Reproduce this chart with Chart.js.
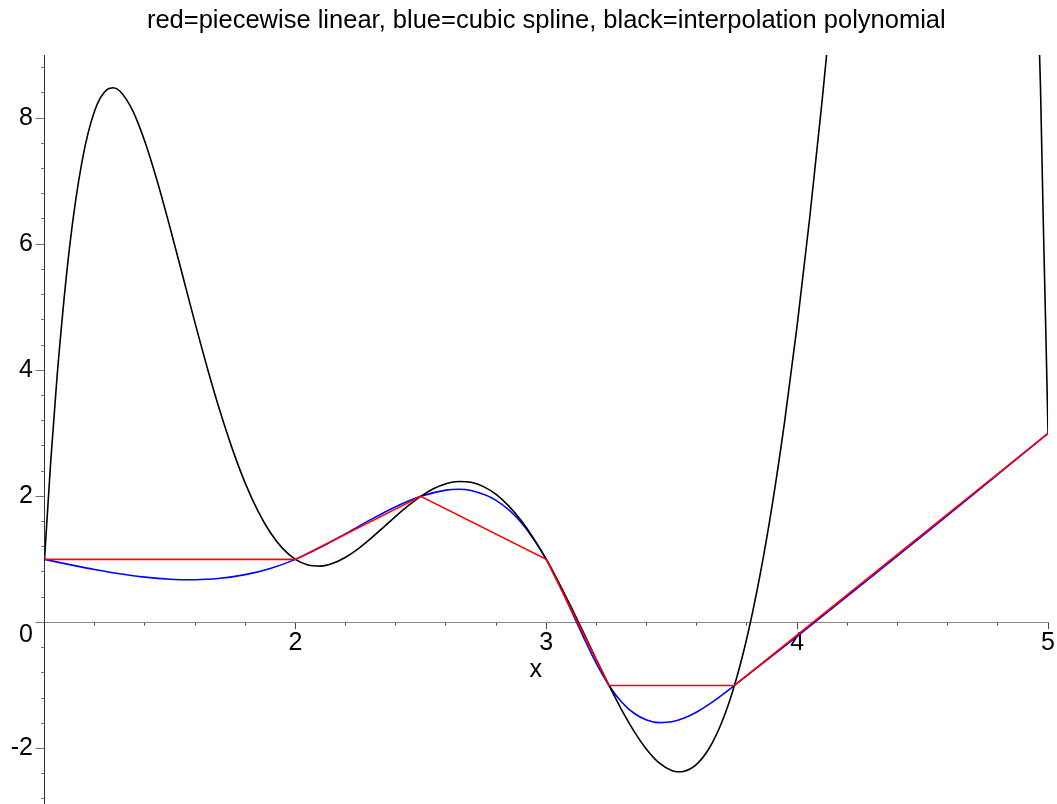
<!DOCTYPE html>
<html>
<head>
<meta charset="utf-8">
<script src="https://cdn.jsdelivr.net/npm/chart.js@4/dist/chart.umd.min.js"></script>
<style>
	body { margin: 0; background: #fff; }
	canvas { display: block; }
</style>
</head>
<body>
<canvas id="myChart" width="1057" height="804"></canvas>
<script>
// data points (piecewise linear, red)
const pieceX = [1, 2, 2.5, 3, 3.25, 3.75, 5];
const pieceY = [1, 1, 2, 1, -1, -1, 3];

// cubic spline (blue)
const splineX = [1, 1.1, 1.2, 1.3, 1.4, 1.5, 1.6, 1.7, 1.8, 1.9, 2,
	2.1, 2.2, 2.3, 2.4, 2.5,
	2.6, 2.65, 2.7, 2.8, 2.9, 3,
	3.05, 3.1, 3.15, 3.2, 3.25,
	3.3, 3.35, 3.4, 3.45, 3.5, 3.55, 3.6, 3.65, 3.7, 3.75,
	4, 4.25, 4.5, 4.75, 5];
const splineY = [1, 0.917, 0.839, 0.771, 0.718, 0.685, 0.677, 0.700, 0.758, 0.856, 1,
	1.190, 1.407, 1.630, 1.835, 2,
	2.099, 2.112, 2.092, 1.936, 1.586, 1,
	0.611, 0.184, -0.248, -0.654, -1,
	-1.262, -1.441, -1.547, -1.589, -1.576, -1.516, -1.420, -1.296, -1.153, -1,
	-0.220, 0.574, 1.377, 2.187, 3];

// interpolation polynomial (black)
const polyX = [1, 1.025, 1.05, 1.1, 1.15, 1.2, 1.25, 1.275,
	1.3, 1.35, 1.4, 1.45, 1.5, 1.55, 1.6, 1.65, 1.7, 1.75, 1.8, 1.85, 1.9, 1.95,
	2, 2.05, 2.1, 2.15, 2.2, 2.25, 2.3, 2.35, 2.4, 2.45,
	2.5, 2.55, 2.6, 2.65, 2.7, 2.75, 2.8, 2.85, 2.9, 2.95,
	3, 3.05, 3.1, 3.15, 3.2,
	3.25, 3.3, 3.35, 3.4, 3.45, 3.5, 3.525, 3.55, 3.6, 3.65, 3.7,
	3.75, 3.8, 3.85, 3.9, 3.95, 4, 4.05, 4.1, 4.15,
	4.2, 4.4, 4.6, 4.8, 4.9, 4.95, 4.97, 4.98, 4.99, 5];
const polyY = [1, 2.562, 3.896, 5.956, 7.322, 8.117, 8.454, 8.481,
	8.429, 8.129, 7.628, 6.990, 6.268, 5.510, 4.751, 4.021, 3.344, 2.737, 2.210, 1.773, 1.426, 1.170,
	1, 0.911, 0.893, 0.938, 1.034, 1.168, 1.329, 1.505, 1.683, 1.851,
	2, 2.119, 2.200, 2.236, 2.222, 2.154, 2.030, 1.849, 1.615, 1.330,
	1, 0.633, 0.238, -0.175, -0.592,
	-1, -1.384, -1.728, -2.014, -2.227, -2.348, -2.369, -2.360, -2.247, -1.992, -1.580,
	-1, -0.240, 0.709, 1.850, 3.185, 4.710, 6.419, 8.297, 10.324,
	12.474, 21.487, 28.031, 25.409, 17.523, 11.215, 8.469, 6.532, 4.808, 3];

// axes
const xTicks = [2, 3, 4, 5];
const xMinorTicks = [1.2, 1.4, 1.6, 1.8, 2.2, 2.4, 2.6, 2.8, 3.2, 3.4, 3.6, 3.8, 4.2, 4.4, 4.6, 4.8];
const yTicks = [-2, 0, 2, 4, 6, 8];
const yMinorTicks = [-2.8, -2.4, -1.6, -1.2, -0.8, -0.4, 0.4, 0.8, 1.2, 1.6, 2.4, 2.8, 3.2, 3.6,
	4.4, 4.8, 5.2, 5.6, 6.4, 6.8, 7.2, 7.6, 8.4, 8.8];
const xMin = 1, xMax = 5, yMin = -2.88, yMax = 9;

const titleText = 'red=piecewise linear, blue=cubic spline, black=interpolation polynomial';
const fontFamily = "'Liberation Sans', Arial, sans-serif";

function pts(xs, ys) {
	return xs.map((x, i) => ({ x: x, y: ys[i] }));
}

const ctx = document.getElementById('myChart').getContext('2d');

const myChart = new Chart(ctx, {
	type: 'line',
	data: {
		datasets: [{
			label: 'piecewise linear',
			data: pts(pieceX, pieceY),
			borderColor: '#ff0000',
			borderWidth: 1.6,
			pointRadius: 0,
			tension: 0,
			order: 0
		}, {
			label: 'interpolation polynomial',
			data: pts(polyX, polyY),
			borderColor: '#000000',
			borderWidth: 1.6,
			pointRadius: 0,
			cubicInterpolationMode: 'monotone',
			order: 1
		}, {
			label: 'cubic spline',
			data: pts(splineX, splineY),
			borderColor: '#0000ff',
			borderWidth: 1.6,
			pointRadius: 0,
			cubicInterpolationMode: 'monotone',
			order: 2
		}]
	},
	options: {
		responsive: false,
		animation: false,
		layout: { padding: { left: 0, right: 8, top: 0, bottom: 0 } },
		plugins: {
			legend: { display: false },
			tooltip: { enabled: false },
			title: {
				display: true,
				text: titleText,
				fullSize: false,
				color: '#000',
				font: { family: fontFamily, size: 25.5, weight: 'normal', lineHeight: 1.2 },
				padding: { top: 6, bottom: 18.4 }
			}
		},
		scales: {
			x: {
				type: 'linear',
				axis: 'x',
				position: { y: 0 },
				min: xMin,
				max: xMax,
				afterBuildTicks: (axis) => { axis.ticks = xTicks.map(v => ({ value: v })); },
				ticks: {
					color: '#000',
					padding: 2,
					font: { family: fontFamily, size: 25, lineHeight: 1 },
					callback: (v) => String(v)
				},
				grid: { drawOnChartArea: false, drawTicks: true, tickLength: 6, tickColor: '#444' },
				border: { display: true, color: '#888', width: 1 },
				title: {
					display: true,
					text: 'x   ',
					color: '#000',
					font: { family: fontFamily, size: 25, lineHeight: 1 },
					padding: { top: 0, bottom: 0 }
				}
			},
			xMinor: {
				type: 'linear',
				axis: 'x',
				position: { y: 0 },
				min: xMin,
				max: xMax,
				afterBuildTicks: (axis) => { axis.ticks = xMinorTicks.map(v => ({ value: v })); },
				ticks: { display: false },
				grid: { drawOnChartArea: false, drawTicks: true, tickLength: 3.5, tickColor: '#444' },
				border: { display: false }
			},
			y: {
				type: 'linear',
				axis: 'y',
				position: 'left',
				min: yMin,
				max: yMax,
				afterBuildTicks: (axis) => { axis.ticks = yTicks.map(v => ({ value: v })); },
				afterFit: (axis) => {
					axis.width = 44.5;
					axis.paddingTop = 0;
					axis.paddingBottom = 0;
				},
				ticks: {
					color: '#000',
					padding: 2.5,
					font: { family: fontFamily, size: 25, lineHeight: 1 },
					// the 0 sits a bit under the x axis, like in the original
					callback: (v) => v === 0 ? ['', '0'] : String(v)
				},
				grid: { drawOnChartArea: false, drawTicks: true, tickLength: 9, tickColor: '#777' },
				border: { display: true, color: '#333', width: 1 }
			},
			yMinor: {
				type: 'linear',
				axis: 'y',
				position: { x: 1 },
				min: yMin,
				max: yMax,
				afterBuildTicks: (axis) => { axis.ticks = yMinorTicks.map(v => ({ value: v })); },
				ticks: { display: false },
				grid: { drawOnChartArea: false, drawTicks: true, tickLength: 4, tickColor: '#777' },
				border: { display: false }
			}
		}
	}
});
</script>
</body>
</html>
